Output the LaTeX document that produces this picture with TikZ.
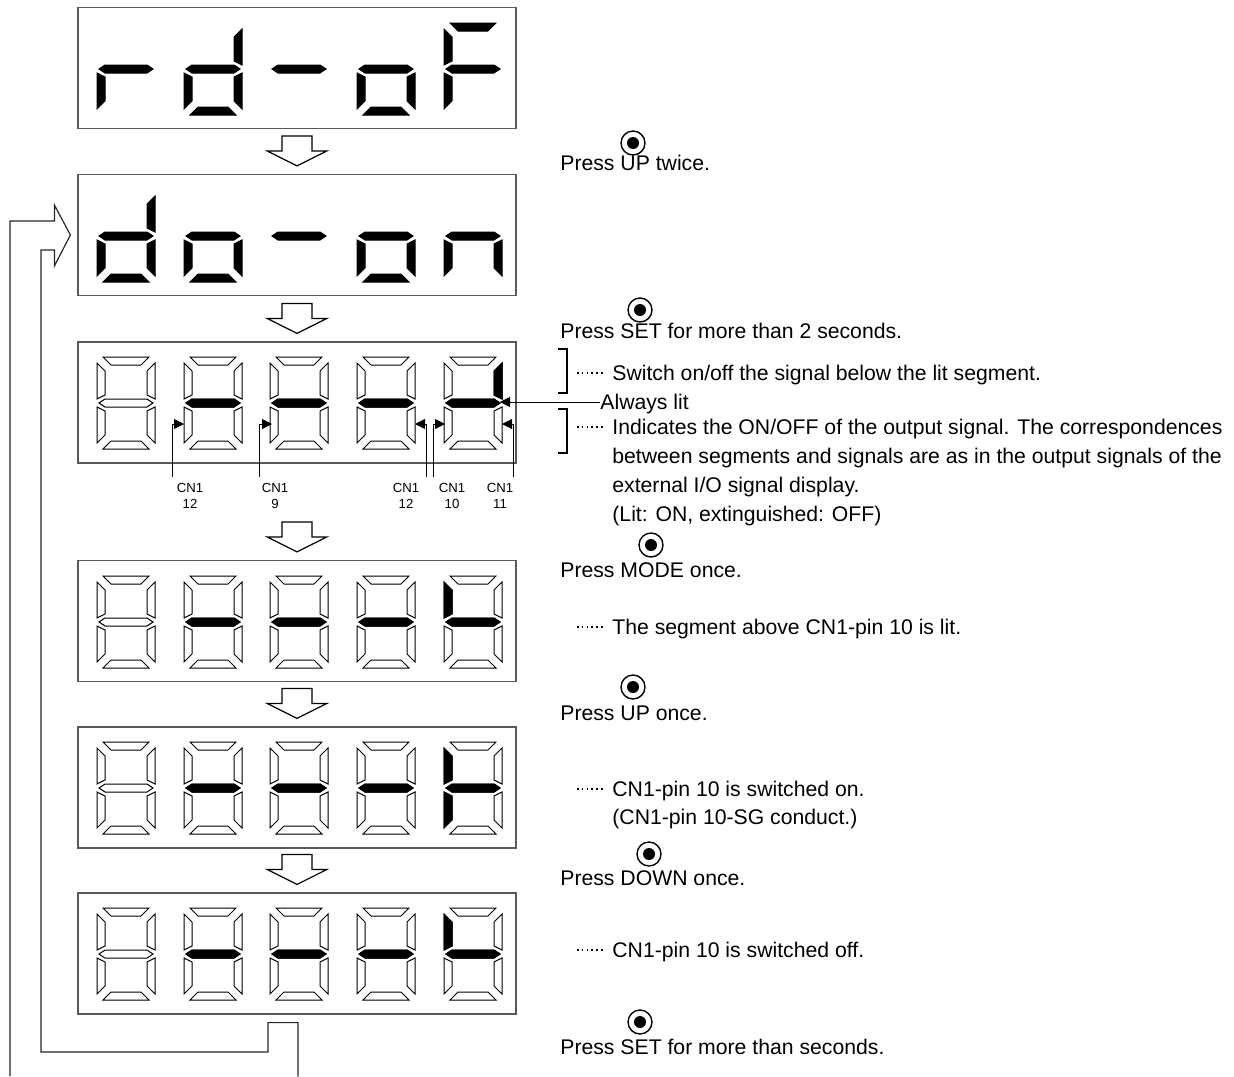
\documentclass[tikz,border=0pt]{standalone}
\usepackage{fontspec}
\setmainfont{Liberation Sans}
\usetikzlibrary{arrows.meta, calc, positioning}

% segment outlines of one digit (58 x 92, y down)
\newcommand{\sga}{(6,0) -- (52,0) -- (44,8) -- (14,8) -- cycle}
\newcommand{\sgb}{(58,6) -- (58,42) -- (50,38) -- (50,14) -- cycle}
\newcommand{\sgc}{(58,50) -- (58,86) -- (50,78) -- (50,54) -- cycle}
\newcommand{\sgd}{(6,92) -- (52,92) -- (44,84) -- (14,84) -- cycle}
\newcommand{\sge}{(0,50) -- (0,86) -- (8,78) -- (8,54) -- cycle}
\newcommand{\sgf}{(0,6) -- (0,42) -- (8,38) -- (8,14) -- cycle}
\newcommand{\sgg}{(2,46) -- (8,42) -- (50,42) -- (56,46) -- (50,50) -- (8,50) -- cycle}

% x, y, style, segments
\newcommand{\digitsegs}[4]{%
  \foreach \s in {#4} {%
    \expandafter\let\expandafter\segp\csname sg\s\endcsname
    \path[#3, shift={(#1,#2)}] \segp;
  }}
% LED digit: all segments outlined, the lit ones black
\newcommand{\ledigit}[3]{%
  \digitsegs{#1}{#2}{seg}{a,b,c,d,e,f,g}%
  \ifx\relax#3\relax\else\digitsegs{#1}{#2}{lit}{#3}\fi}

\tikzset{
  flowarrow/.pic={\path[pic actions] (-15,0) -- (15,0) -- (15,15) -- (30,15) -- (0,30) -- (-30,15) -- (-15,15) -- cycle;},
}

\begin{document}
\begin{tikzpicture}[
    x=0.5pt, y=-0.5pt,
    disp/.style={draw=black!65, line width=0.6pt, minimum width=219pt, minimum height=60.5pt, inner sep=0pt},
    seg/.style={draw=black, fill=white, line width=0.5pt},
    lit/.style={draw=black, fill=black, line width=0.5pt},
    hollow/.style={draw=black, fill=white, line width=0.6pt},
    btn/.style={circle, draw, line width=0.7pt, minimum size=12pt, inner sep=0pt,
      path picture={\fill (path picture bounding box.center) circle (3pt);}},
    txt/.style={anchor=base west, inner sep=0pt, font=\fontsize{10.6pt}{14.5pt}\selectfont},
    cnlbl/.style={anchor=north, inner sep=0pt, align=center, font=\fontsize{6.6pt}{8pt}\selectfont},
    pin/.style={-{Triangle[length=5pt, width=5pt]}, line width=0.5pt},
    leader/.style={line width=0.8pt, dash pattern=on 0.8pt off 1.6pt},
    brk/.style={line width=0.6pt},
]
\useasboundingbox (0,0) rectangle (1234,1076);

% --- Display frames ---
\node[disp] (d1) at (297,68) {};
\node[disp] (d2) at (297,235) {};
\node[disp] (d3) at (297,402.5) {};
\node[disp] (d4) at (297,621) {};
\node[disp] (d5) at (297,787.5) {};
\node[disp] (d6) at (297,953.5) {};

% --- rd-oF ---
\digitsegs{97}{23}{lit}{e,g}
\digitsegs{184}{23}{lit}{b,c,d,e,g}
\digitsegs{270}{23}{lit}{g}
\digitsegs{357}{23}{lit}{c,d,e,g}
\digitsegs{444}{23}{lit}{a,e,f,g}

% --- do-on ---
\digitsegs{97}{190}{lit}{b,c,d,e,g}
\digitsegs{184}{190}{lit}{c,d,e,g}
\digitsegs{270}{190}{lit}{g}
\digitsegs{357}{190}{lit}{c,d,e,g}
\digitsegs{444}{190}{lit}{c,e,g}

% --- Output signal displays ---
\ledigit{97}{357}{}
\ledigit{184}{357}{g}
\ledigit{270}{357}{g}
\ledigit{357}{357}{g}
\ledigit{444}{357}{b,g}

\ledigit{97}{576}{}
\ledigit{184}{576}{g}
\ledigit{270}{576}{g}
\ledigit{357}{576}{g}
\ledigit{444}{576}{f,g}

\ledigit{97}{742}{}
\ledigit{184}{742}{g}
\ledigit{270}{742}{g}
\ledigit{357}{742}{g}
\ledigit{444}{742}{e,f,g}

\ledigit{97}{908}{}
\ledigit{184}{908}{g}
\ledigit{270}{908}{g}
\ledigit{357}{908}{g}
\ledigit{444}{908}{f,g}

% --- Flow arrows ---
\foreach \n in {d2,d3,d4,d5,d6}
  \pic[hollow] at ($(\n.north)+(0,-38)$) {flowarrow};

% --- Return path to do-on ---
\draw[brk, black!85] (10,1076) |- ($(d2.west)+(-23,-14)$) -- ++(0,-16)
  -- ($(d2.west)+(-7,0)$) -- ++(-16,31) -- ++(0,-16) -| (41,1052)
  -| ($(d6.south)+(-29,8)$) -| ($(d6.south)+(1,62)$);

% --- CN1 pins ---
\foreach \lx/\tx/\nx/\lab [count=\i] in {172/184/190/12, 259/272/275/9, 426/415/406/12, 433/445/452/10, 513/502/500/11} {
  \coordinate (p\i) at (\lx,477);
  \coordinate (t\i) at (\tx,424);
  \node[cnlbl] (cn\i) at (\nx,483) {CN1\\\lab};
  \draw[pin] (p\i) |- (t\i);
}

% --- Always lit ---
\node[txt] (always) at (600,409) {Always lit};
\coordinate (t6) at (500,402);
\draw[pin] (t6 -| always.west) -- (t6);

% --- Brackets and leaders ---
\draw[brk] (558,349) -| (567,393) -- (558,393);
\draw[brk] (558,409) -| (567,453) -- (558,453);
\foreach \i/\ly in {1/373, 2/427, 3/627, 4/789, 5/950} {
  \coordinate (l\i) at (577,\ly);
  \draw[leader] (l\i) -- ++(28,0);
}

% --- Buttons ---
\node[btn] (b1) at (633,143) {};
\node[btn] (b2) at (640,310) {};
\node[btn] (b3) at (651,545) {};
\node[btn] (b4) at (633,687) {};
\node[btn] (b5) at (649,854) {};
\node[btn] (b6) at (640,1022) {};

% --- Texts ---
\node[txt] (s1) at (560,170) {Press UP twice.};
\node[txt] (s2) at (560,338) {Press SET for more than 2 seconds.};
\node[txt] (n1) at (612,380) {Switch on/off the signal below the lit segment.};
\node[txt] (n2) at (612,434) {Indicates the ON/OFF of the output signal. The correspondences};
\node[txt] (n2b) at (612,463) {between segments and signals are as in the output signals of the};
\node[txt] (n2c) at (612,492) {external I/O signal display.};
\node[txt] (n2d) at (612,521) {(Lit: ON, extinguished: OFF)};
\node[txt] (s3) at (560,577) {Press MODE once.};
\node[txt] (n3) at (612,634) {The segment above CN1-pin 10 is lit.};
\node[txt] (s4) at (560,720) {Press UP once.};
\node[txt] (n4) at (612,796) {CN1-pin 10 is switched on.};
\node[txt] (n4b) at (612,824) {(CN1-pin 10-SG conduct.)};
\node[txt] (s5) at (560,885) {Press DOWN once.};
\node[txt] (n5) at (612,957) {CN1-pin 10 is switched off.};
\node[txt] (s6) at (560,1054) {Press SET for more than seconds.};

\end{tikzpicture}
\end{document}
